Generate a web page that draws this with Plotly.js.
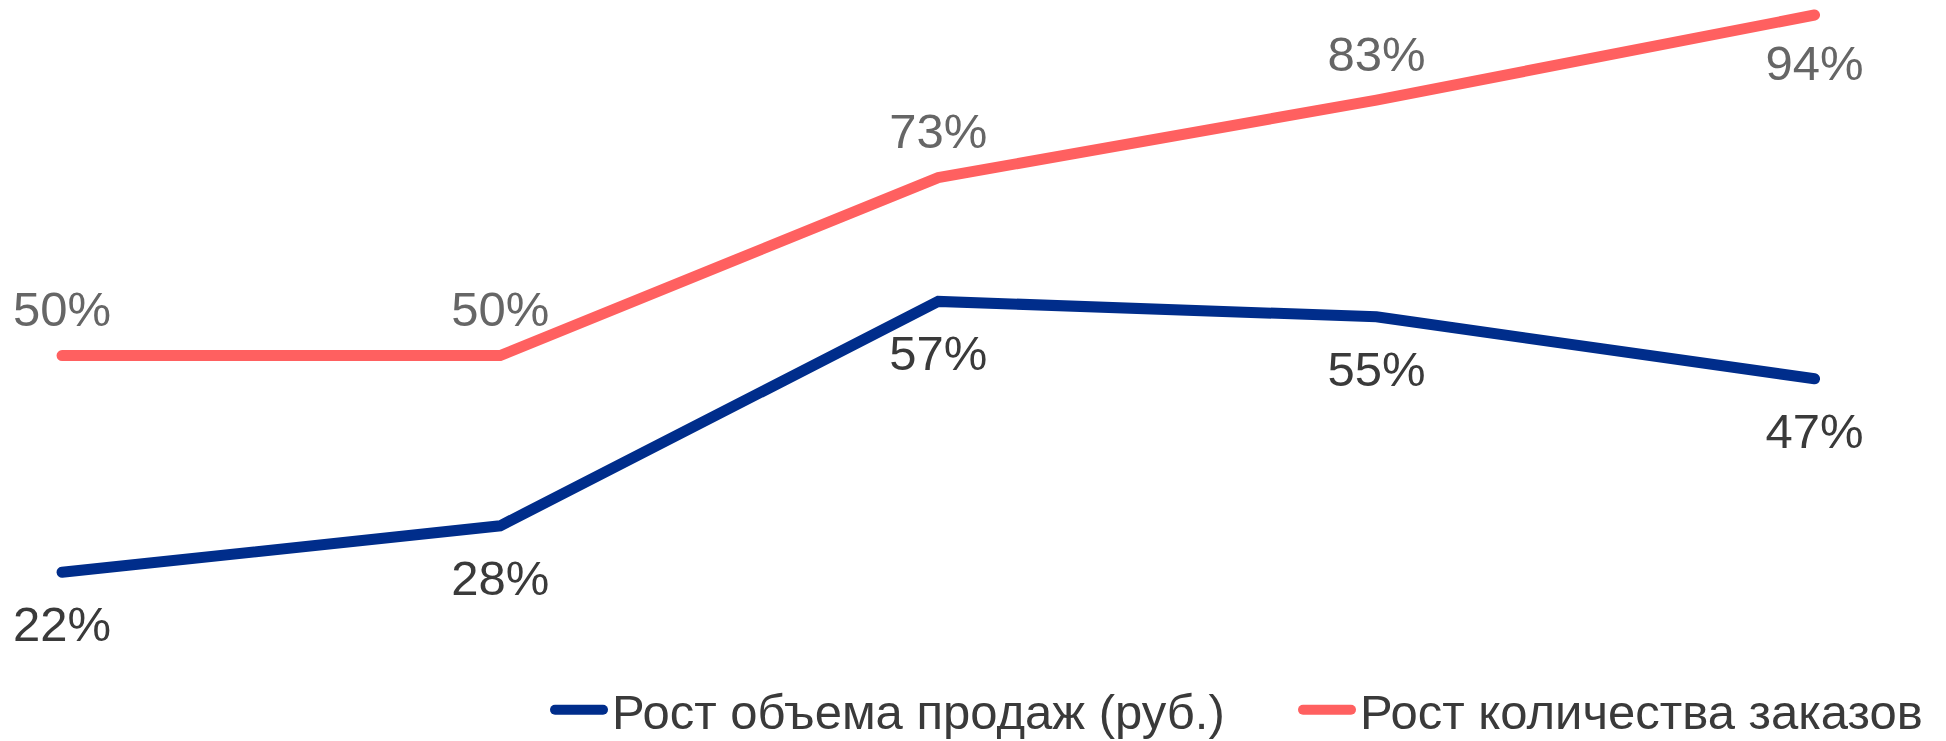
<!DOCTYPE html>
<html>
<head>
<meta charset="utf-8">
<script src="https://cdn.plot.ly/plotly-3.0.1.min.js"></script>
<style>
html,body{margin:0;padding:0;background:#fff;}
#chart{width:1946px;height:741px;}
.js-line{stroke-linecap:round;}
</style>
</head>
<body>
<div id="chart"></div>
<script>
const categories = ['1', '2', '3', '4', '5'];
const salesGrowth = [0.22, 0.28, 0.57, 0.55, 0.47];
const ordersGrowth = [0.50, 0.50, 0.73, 0.83, 0.94];
const seriesNames = ['Рост объема продаж (руб.)', 'Рост количества заказов'];
const ordersLabelPos = ['top center', 'top center', 'top center', 'top center', 'bottom center'];

const FONT = '"Liberation Sans", Arial, sans-serif';

const traces = [
  {
    x: categories, y: salesGrowth, name: seriesNames[0], legend: 'legend',
    type: 'scatter', mode: 'lines+markers+text',
    line: {color: '#002D8B', width: 11},
    marker: {size: 50, color: 'rgba(0,0,0,0)', line: {width: 0}},
    text: salesGrowth.map(v => Math.round(v * 100) + '%'),
    textposition: 'bottom center',
    textfont: {family: FONT, size: 49, color: '#3A3A3A'},
    hoverinfo: 'skip'
  },
  {
    x: categories, y: ordersGrowth, name: seriesNames[1], legend: 'legend2',
    type: 'scatter', mode: 'lines+markers+text',
    line: {color: '#FF6060', width: 11},
    marker: {size: [26, 26, 26, 26, 44], color: 'rgba(0,0,0,0)', line: {width: 0}},
    text: ordersGrowth.map(v => Math.round(v * 100) + '%'),
    textposition: ordersLabelPos,
    textfont: {family: FONT, size: 49, color: '#666666'},
    hoverinfo: 'skip'
  }
];

const legendCommon = {
  orientation: 'h', xanchor: 'left', yanchor: 'middle', y: 0.042,
  font: {family: FONT, size: 49, color: '#3A3A3A'},
  bgcolor: 'rgba(0,0,0,0)', itemwidth: 52
};

const layout = {
  width: 1946, height: 741,
  margin: {l: 0, r: 0, t: 0, b: 0, pad: 0, autoexpand: false},
  paper_bgcolor: '#ffffff', plot_bgcolor: '#ffffff',
  font: {family: FONT, size: 49, color: '#3A3A3A'},
  showlegend: true,
  legend: Object.assign({}, legendCommon, {x: 550 / 1946}),
  legend2: Object.assign({}, legendCommon, {x: 1298 / 1946}),
  xaxis: {type: 'category', range: [-0.1416, 4.30], visible: false, fixedrange: true},
  yaxis: {range: [0.0020, 0.9594], visible: false, fixedrange: true}
};

Plotly.newPlot('chart', traces, layout, {displayModeBar: false, staticPlot: true}).then(function () {
  document.querySelectorAll('.legendlines path').forEach(function (p) {
    p.setAttribute('d', 'M5,0h48');
  });
});
</script>
</body>
</html>
